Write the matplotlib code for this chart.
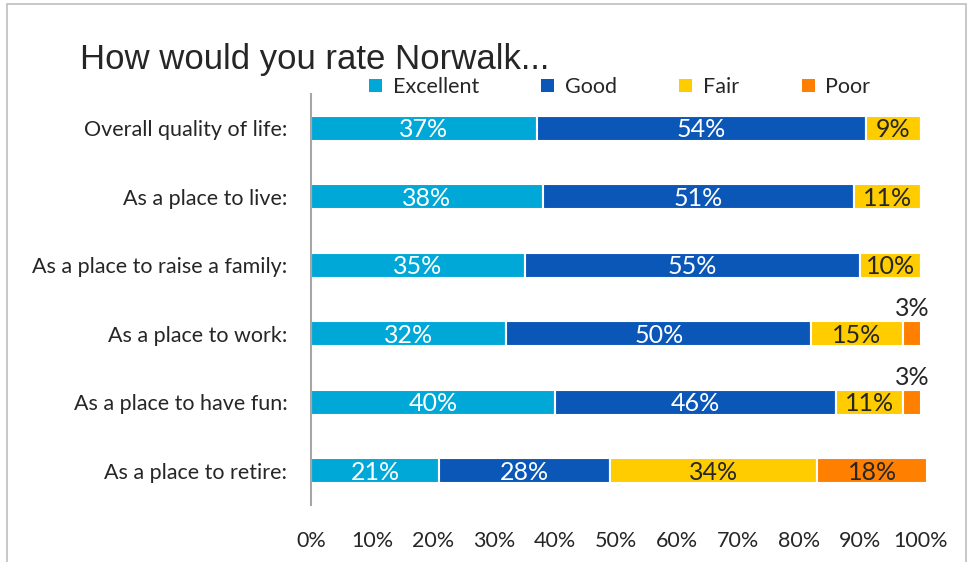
import matplotlib
matplotlib.use("Agg")
import matplotlib.pyplot as plt
from matplotlib.patches import Patch, Rectangle
from matplotlib import font_manager

categories = [
    "Overall quality of life:",
    "As a place to live:",
    "As a place to raise a family:",
    "As a place to work:",
    "As a place to have fun:",
    "As a place to retire:",
]
series_names = ["Excellent", "Good", "Fair", "Poor"]
excellent = [37, 38, 35, 32, 40, 21]
good = [54, 51, 55, 50, 46, 28]
fair = [9, 11, 10, 15, 11, 34]
poor = [0, 0, 0, 3, 3, 18]
x_ticks = [0, 10, 20, 30, 40, 50, 60, 70, 80, 90, 100]

colors = ["#00A8D8", "#0B57B8", "#FFCC00", "#FF8000"]
label_colors = ["white", "white", "#262626", "#262626"]

names = {f.name for f in font_manager.fontManager.ttflist}
body_font = "Lato" if "Lato" in names else "DejaVu Sans"
title_font = "Liberation Sans" if "Liberation Sans" in names else "DejaVu Sans"

fig = plt.figure(figsize=(9.68, 5.62), dpi=100)
fig.patch.set_facecolor("white")
ax = fig.add_axes([311 / 968, 1 - 505 / 562, 610 / 968, 411 / 562])

# Frame around the whole chart area
fig.patches.append(Rectangle((7 / 968, -0.05), (966 - 7) / 968, 1 - 4 / 562 + 0.05,
                             transform=fig.transFigure, fill=False,
                             edgecolor="#BFBFBF", linewidth=1.2))

ypos = list(range(len(categories)))
series = [excellent, good, fair, poor]
left = [0] * len(categories)
for name, vals, col, lcol in zip(series_names, series, colors, label_colors):
    bars = ax.barh(ypos, vals, left=left, height=0.37, color=col,
                   edgecolor="white", linewidth=1.5, label=name, clip_on=False)
    for i, (b, v) in enumerate(zip(bars, vals)):
        if v == 0:
            continue
        cx = left[i] + v / 2
        if v < 5:
            ax.text(cx, i - 0.2, f"{v}%", ha="center", va="bottom",
                    color="#262626", fontsize=18, family=body_font)
        else:
            ax.text(cx, i + 0.02, f"{v}%", ha="center", va="center",
                    color=lcol, fontsize=18, family=body_font)
    left = [l + v for l, v in zip(left, vals)]

ax.set_xlim(0, 100)
ax.set_ylim(len(categories) - 0.5, -0.5)
ax.set_yticks(ypos)
ax.set_yticklabels(categories, fontsize=15.5, family=body_font, color="#262626")
ax.set_xticks(x_ticks)
ax.set_xticklabels([f"{t}%" for t in x_ticks], fontsize=15.5, family=body_font,
                   color="#262626")
ax.tick_params(axis="both", length=0)
ax.tick_params(axis="x", pad=19)
ax.tick_params(axis="y", pad=17)
for s in ["top", "right", "bottom"]:
    ax.spines[s].set_visible(False)
ax.spines["left"].set_color("#A6A6A6")
ax.spines["left"].set_linewidth(1.5)
ax.set_facecolor("none")

fig.text(80 / 968, 1 - 59 / 562, "How would you rate Norwalk...", fontsize=25,
         family=title_font, color="#262626", va="center", ha="left")

handles = [Patch(facecolor=c, edgecolor="none") for c in colors]
fig.legend(handles, series_names, loc="center left",
           bbox_to_anchor=(369 / 968, 1 - 87 / 562), ncol=4, frameon=False,
           prop={"family": body_font, "size": 15.5}, handlelength=0.6,
           handleheight=0.6, handletextpad=0.5, columnspacing=2.9,
           labelcolor="#262626", borderaxespad=0, borderpad=0)

fig.savefig("out.png", dpi=100)
